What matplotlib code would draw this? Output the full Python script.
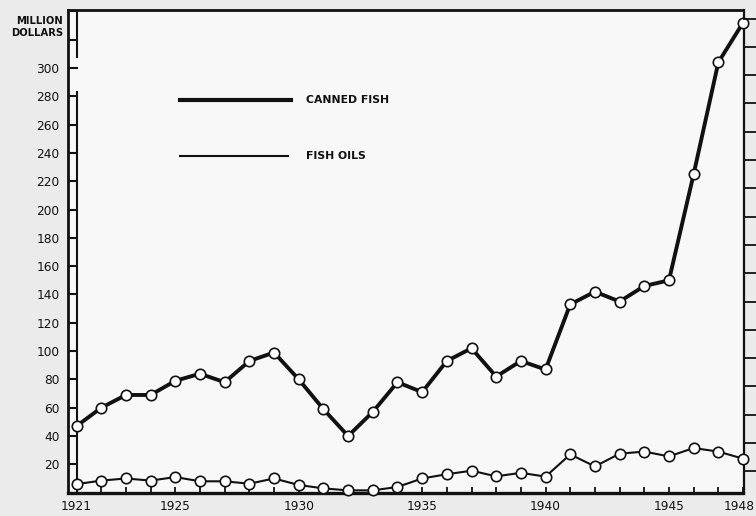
import numpy as np
import matplotlib
matplotlib.use("Agg")
import matplotlib.pyplot as plt
import matplotlib.transforms as mtransforms

years = list(range(1921, 1949))
canned_fish = [47, 60, 69, 69, 79, 84, 78, 93, 99,
               80, 59, 40, 57, 78, 71, 93, 102, 82, 93, 87,
               133, 142, 135, 146, 150, 225, 304, 332]
fish_oils = [6, 8.5, 10, 8.5, 11, 8, 8, 6.3, 10,
             5.4, 3, 1.6, 1.6, 4, 10, 13, 15.5, 11.5, 14, 11.3,
             27, 18.5, 27.5, 29, 25.6, 31.5, 29, 24]
y_ticks = list(range(0, 341, 20))
y_labels = ["" if (v == 0 or v > 300) else str(v) for v in y_ticks]
x_label_years = [1921, 1925, 1930, 1935, 1940, 1945, 1948]

fig = plt.figure(figsize=(7.56, 5.16), dpi=100, facecolor="#ebebeb")
ax = fig.add_axes([67.7/756, 0.0453, (743.5-67.7)/756, 0.9353])
ax.set_facecolor("#f8f8f8")

ax.plot(years, canned_fish, color="#111111", lw=2.8, marker="o", ms=7.5,
        mfc="white", mec="#111111", mew=1.2, zorder=3, clip_on=False)
ax.plot(years, fish_oils, color="#111111", lw=1.5, marker="o", ms=7.5,
        mfc="white", mec="#111111", mew=1.2, zorder=3, clip_on=False)

# ladder line at 1921
ax.vlines(1921, 0, 284, color="#111111", lw=1.5, zorder=2)
ax.vlines(1921, 307, 341, color="#111111", lw=1.5, zorder=2)

ax.set_xlim(1920.64, 1948.02)
ax.set_ylim(0, 341)

ax.set_yticks(y_ticks)
ax.set_yticklabels(y_labels)
ax.set_xticks(years, minor=True)
ax.set_xticks(x_label_years)
ax.set_xticklabels([str(y) for y in x_label_years])

ax.tick_params(axis="y", which="both", direction="in", length=7.5, width=1.5,
               labelsize=8.7, pad=6, colors="#111111")
ax.tick_params(axis="x", which="both", direction="in", length=4.5, width=1.3,
               labelsize=8.7, pad=5, colors="#111111")
ax.tick_params(axis="y", right=True, labelright=False)

lab = ax.get_xticklabels()[-1]
lab.set_transform(lab.get_transform() + mtransforms.ScaledTranslation(-4/100, 0, fig.dpi_scale_trans))

for s in ["left", "top"]:
    ax.spines[s].set_linewidth(2.0)
ax.spines["bottom"].set_linewidth(2.4)
ax.spines["right"].set_linewidth(1.6)
for s in ax.spines.values():
    s.set_color("#111111")

# right side outward ticks
ax2 = ax.twinx()
ax2.set_ylim(0, 341)
ax2.set_yticks(list(range(15, 340, 20)))
ax2.set_yticklabels([])
ax2.tick_params(axis="y", direction="out", length=10, width=1.3, colors="#111111")
for s in ax2.spines.values():
    s.set_visible(False)

fig.text(63/756, 1-27/516, "MILLION\nDOLLARS", ha="right", va="center",
         fontsize=7.2, fontweight="bold", linespacing=1.35, color="#111111")

# legend
ax.plot([1925.2, 1929.7], [277.5, 277.5], color="#111111", lw=3.0)
ax.plot([1925.2, 1929.55], [237.5, 237.5], color="#111111", lw=1.5)
ax.text(1930.3, 277.5, "CANNED FISH", fontsize=7.8,
        fontweight="bold", va="center", color="#111111")
ax.text(1930.3, 237.5, "FISH OILS", fontsize=7.8,
        fontweight="bold", va="center", color="#111111")

fig.savefig("out.png", dpi=100, facecolor=fig.get_facecolor())
